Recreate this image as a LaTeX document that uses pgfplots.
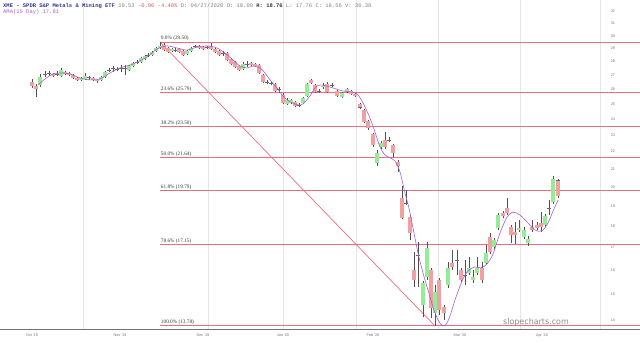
\documentclass[border=0pt]{standalone}
\usepackage{pgfplots}
\pgfplotsset{compat=1.18}
\usepackage{pgfplotstable}
\usepackage{fontspec}
\setmainfont{Liberation Serif}
\newfontfamily\monof{Liberation Mono}
\newfontfamily\sansf{Liberation Sans}
\newfontfamily\dejaf{DejaVu Sans}
\definecolor{fibc}{RGB}{230,110,125}
\definecolor{upc}{RGB}{150,235,150}
\definecolor{dnc}{RGB}{242,160,162}
\definecolor{edge}{RGB}{105,105,105}
\definecolor{wick}{RGB}{80,80,80}
\definecolor{ama}{RGB}{165,95,205}
\definecolor{hdrblue}{RGB}{45,55,140}
\definecolor{hdrred}{RGB}{230,80,80}

\pgfplotstableread{
x o h l c
32 26.51 26.72 26.08 26.22
36 26.22 26.36 25.46 26.01
40 26.29 27.08 26.15 26.86
45 27.04 27.30 26.86 27.08
49 27.11 27.30 26.93 27.15
53 27.08 27.15 26.86 26.93
57 27.08 27.30 26.93 27.11
61 26.93 27.52 26.86 27.37
65 27.22 27.30 27.01 27.08
69 27.15 27.22 26.93 27.01
73 27.01 27.08 26.72 26.79
77 26.79 26.86 26.58 26.65
81 26.65 26.86 26.58 26.79
85 26.72 27.15 26.65 26.93
89 26.83 26.93 26.65 26.79
93 26.79 26.86 26.58 26.65
97 26.65 26.72 26.44 26.58
101 26.65 26.93 26.58 26.86
105 26.86 27.30 26.79 27.22
109 27.37 27.52 27.22 27.33
113 27.44 27.66 27.22 27.48
117 27.44 27.59 27.30 27.41
121 27.44 27.74 27.22 27.48
125 27.48 27.74 27.01 27.52
129 27.37 27.74 27.30 27.66
133 27.66 27.96 27.59 27.89
137 27.92 28.11 27.81 27.96
141 27.96 28.34 27.89 28.26
145 28.19 28.49 28.11 28.41
148 28.45 28.64 28.34 28.49
152 28.49 28.80 28.41 28.72
156 28.80 29.11 28.72 29.03
160 29.03 29.50 28.95 29.19
164 29.26 29.42 28.80 28.87
168 29.03 29.11 28.64 28.72
172 28.80 29.03 28.72 28.95
175 28.87 29.03 28.72 28.84
179 28.95 29.03 28.64 28.72
183 28.80 28.87 28.41 28.49
187 28.57 28.87 28.49 28.80
191 28.80 29.11 28.72 29.03
195 29.11 29.26 29.03 29.15
199 29.19 29.26 28.95 29.03
203 29.11 29.19 28.87 28.95
207 29.07 29.19 28.95 29.11
211 29.19 29.42 28.87 28.95
215 28.95 29.03 28.64 28.72
219 28.80 28.87 28.41 28.49
223 28.64 28.80 28.41 28.61
227 28.64 28.72 28.04 28.11
231 28.19 28.26 27.74 27.81
235 27.96 28.04 27.52 27.59
239 27.66 27.74 27.30 27.37
243 27.44 27.96 27.37 27.81
247 27.81 28.04 27.59 27.78
251 27.89 27.96 27.66 27.74
255 27.81 27.89 27.59 27.66
259 27.74 27.81 27.08 27.15
263 27.01 27.08 26.44 26.51
267 26.51 26.65 26.36 26.47
271 26.44 26.51 26.29 26.40
275 26.36 26.44 25.81 25.88
279 26.01 26.15 25.74 25.98
283 25.60 25.74 24.99 25.06
287 24.99 25.40 24.93 25.26
291 25.06 25.33 24.99 25.26
295 25.13 25.19 24.79 24.86
299 24.93 25.06 24.79 24.89
303 25.06 25.46 24.99 25.40
307 25.53 26.44 25.46 26.36
311 26.65 26.72 26.36 26.44
315 26.29 26.36 25.74 25.81
319 25.88 26.01 25.74 25.85
323 26.15 26.44 26.01 26.22
327 26.36 26.51 25.74 25.81
332 26.29 26.44 26.15 26.26
337 25.88 25.95 25.46 25.53
342 25.46 25.81 25.40 25.74
347 25.81 26.08 25.74 26.01
351 25.88 25.95 25.60 25.67
355 25.67 25.74 25.46 25.53
360 24.99 25.06 24.66 24.73
364 24.59 24.66 23.74 23.80
368 23.87 23.93 23.30 23.43
373 23.05 23.11 22.26 22.38
377 21.33 22.08 21.16 21.91
381 22.26 22.62 22.14 22.50
385 22.68 23.17 22.14 22.26
389 22.65 22.87 22.56 22.68
393 22.38 22.44 21.67 21.91
398 21.38 21.50 20.82 21.16
402 19.42 20.06 18.35 18.40
406 19.16 19.84 19.05 19.13
410 18.45 18.55 17.35 17.68
414 16.01 16.80 15.29 15.58
418 16.67 17.26 15.29 16.65
423 14.58 15.54 14.12 15.46
427 15.71 17.26 15.58 16.98
431 16.01 16.10 14.08 14.46
435 14.27 15.37 13.78 15.09
439 15.58 15.67 14.19 14.38
444 14.50 14.58 14.00 14.27
448 15.37 16.36 15.25 16.10
452 16.31 16.89 16.01 16.14
457 16.44 16.89 15.80 16.42
461 16.01 16.10 15.50 15.58
465 15.80 16.44 15.37 15.78
469 15.88 16.58 15.80 16.10
473 15.58 16.01 15.46 15.71
477 15.88 16.58 15.80 16.10
482 16.10 16.36 15.46 15.58
486 16.31 17.12 16.22 16.76
490 17.49 17.68 16.71 16.80
494 17.03 17.45 16.89 17.35
498 17.92 18.65 17.82 18.55
503 18.65 18.75 18.40 18.50
507 18.90 19.42 18.55 18.65
511 17.97 18.06 17.21 17.59
515 17.73 18.21 17.17 17.59
519 17.82 18.31 17.73 17.92
524 17.49 17.97 17.40 17.82
528 17.21 17.54 17.07 17.40
532 17.97 18.31 17.73 17.82
537 18.06 18.21 17.82 17.92
541 18.16 18.70 17.73 17.97
545 18.06 18.60 17.97 18.50
549 18.90 19.31 18.55 18.87
553 19.21 20.60 19.10 20.45
558 20.35 20.45 19.40 19.53
}\ohlc

\pgfplotstableread{
x v
38 26.29
45 26.72
53 27.08
62 27.15
70 27.08
80 26.79
90 26.65
100 26.72
110 27.15
120 27.52
133 27.81
147 28.34
157 28.95
167 29.19
177 29.03
187 28.87
197 29.11
208 29.19
217 29.03
225 28.64
233 28.11
240 27.66
247 27.52
253 27.66
260 27.52
265 27.15
270 26.65
277 26.08
283 25.53
290 25.13
298 24.93
303 24.99
310 25.53
315 26.08
320 26.29
330 26.15
342 25.88
350 25.81
357 25.67
363 25.06
370 24.06
375 23.17
380 22.26
385 21.79
390 21.62
395 21.44
400 20.82
405 19.68
409 18.90
413 17.92
418 16.76
423 15.88
428 15.17
433 14.50
438 14.00
442 13.80
446 13.83
450 14.15
455 14.77
462 15.54
468 15.97
475 16.14
481 16.10
487 16.27
493 16.71
500 17.68
507 18.45
513 18.70
520 18.55
528 18.16
535 17.82
542 17.78
548 18.16
553 18.75
558 19.31
}\ama

\begin{document}
\begin{tikzpicture}
\path[use as bounding box] (0,-13bp) rectangle (640bp,330bp);
\begin{axis}[
  at={(0,0)}, anchor=south west, scale only axis,
  width=600bp, height=330bp,
  xmin=0, xmax=600,
  ymode=log, ymin=13.63, ymax=33.02,
  axis line style={draw=none},
  major tick length=0pt, minor tick num=0,
  ytick={14,15,16,17,18,19,20,21,22,23,24,25,26,27,28,29,30,31,32},
  yticklabels={14,15,16,17,18,19,20,21,22,23,24,25,26,27,28,29,30,31,32},
  yticklabel pos=right,
  yticklabel style={font=\sansf\fontsize{3.8}{4}\selectfont, text=black!55, anchor=center, xshift=13bp},
  xtick={32,120,203,283,373,460,542},
  xticklabels={Oct '19,Nov '19,Dec '19,Jan '20,Feb '20,Mar '20,Apr '20},
  xticklabel style={font=\sansf\fontsize{3.8}{4}\selectfont, text=black!55, anchor=center, yshift=-5.5bp},
  clip=false,
  candle/.style={draw=none, mark=none, forget plot,
    error bars/.cd, y dir=plus, y explicit, error mark=none},
]
% faint vertical grid
\pgfplotsinvokeforeach{83,208,283,356,438,520,600}{
  \draw[black!10, line width=0.5bp] (axis cs:#1,13.63) -- (axis cs:#1,33.02);
}
% bottom axis line
\draw[black!55, line width=0.9bp] (axis cs:0,13.66) -- (axis cs:640,13.66);

% Fibonacci levels
\addplot[draw=fibc, line width=1bp, forget plot] coordinates {(160,29.50) (640,29.50)};
\addplot[draw=fibc, line width=1bp, forget plot] coordinates {(160,25.79) (640,25.79)};
\addplot[draw=fibc, line width=1bp, forget plot] coordinates {(160,23.50) (640,23.50)};
\addplot[draw=fibc, line width=1bp, forget plot] coordinates {(160,21.64) (640,21.64)};
\addplot[draw=fibc, line width=1bp, forget plot] coordinates {(160,19.79) (640,19.79)};
\addplot[draw=fibc, line width=1bp, forget plot] coordinates {(160,17.15) (640,17.15)};
\addplot[draw=fibc, line width=1bp, forget plot] coordinates {(160,13.78) (640,13.78)};
\addplot[draw=fibc, line width=0.7bp, forget plot] coordinates {(160,29.50) (435,13.78)};

\begin{scope}[every node/.style={anchor=south west, inner sep=0.8bp, font=\fontsize{5.3}{6}\selectfont, text=black!80}]
\node at (axis cs:160,29.50) {0.0\% (29.50)};
\node at (axis cs:160,25.79) {23.6\% (25.79)};
\node at (axis cs:160,23.50) {38.2\% (23.50)};
\node at (axis cs:160,21.64) {50.0\% (21.64)};
\node at (axis cs:160,19.79) {61.8\% (19.79)};
\node at (axis cs:160,17.15) {78.6\% (17.15)};
\node at (axis cs:160,13.78) {100.0\% (13.78)};
\end{scope}

% wicks
\addplot[candle, error bar style={draw=wick, line width=0.5bp}]
  table[x=x, y=l, y error expr={\thisrow{h}-\thisrow{l}}] {\ohlc};
% up bodies outline
\addplot[candle, error bar style={draw=edge, line width=4bp}]
  table[x=x, y expr={\thisrow{c}>=\thisrow{o} ? \thisrow{o} : nan}, y error expr={\thisrow{c}-\thisrow{o}}] {\ohlc};
% down bodies outline
\addplot[candle, error bar style={draw=edge, line width=4bp}]
  table[x=x, y expr={\thisrow{c}<\thisrow{o} ? \thisrow{c} : nan}, y error expr={\thisrow{o}-\thisrow{c}}] {\ohlc};
% up fill
\addplot[candle, error bar style={draw=upc, line width=3.2bp}]
  table[x=x, y expr={\thisrow{c}>=\thisrow{o} ? \thisrow{o}*1.0009 : nan}, y error expr={max(\thisrow{c}/1.0009-\thisrow{o}*1.0009,0)}] {\ohlc};
% down fill
\addplot[candle, error bar style={draw=dnc, line width=3.2bp}]
  table[x=x, y expr={\thisrow{c}<\thisrow{o} ? \thisrow{c}*1.0009 : nan}, y error expr={max(\thisrow{o}/1.0009-\thisrow{c}*1.0009,0)}] {\ohlc};

% AMA line
\addplot[ama, line width=0.6bp, smooth, mark=none, forget plot] table[x=x, y=v] {\ama};
\end{axis}

% header
\node[anchor=base west, inner sep=0, font=\monof\fontsize{5.5}{6}\selectfont] at (3bp,322.5bp)
 {\textcolor{hdrblue}{\bfseries XME - SPDR S\&P Metals \& Mining ETF} \textcolor{black!50}{19.53} \textcolor{hdrred}{-0.96 -4.40\%} \textcolor{black!50}{D: 04/27/2020 O: 18.09} \textcolor{black!80}{\bfseries H: 18.76} \textcolor{black!50}{L: 17.76 C: 18.56 V: 36.38}};
\node[anchor=base west, inner sep=0, font=\monof\fontsize{5.5}{6}\selectfont, text=ama] at (3bp,316bp) {AMA(15 Day) 17.81};
% watermark
\node[font=\dejaf\fontsize{8}{9}\selectfont, text=black!45] at (536bp,8bp) {slopecharts.com};
\end{tikzpicture}
\end{document}
